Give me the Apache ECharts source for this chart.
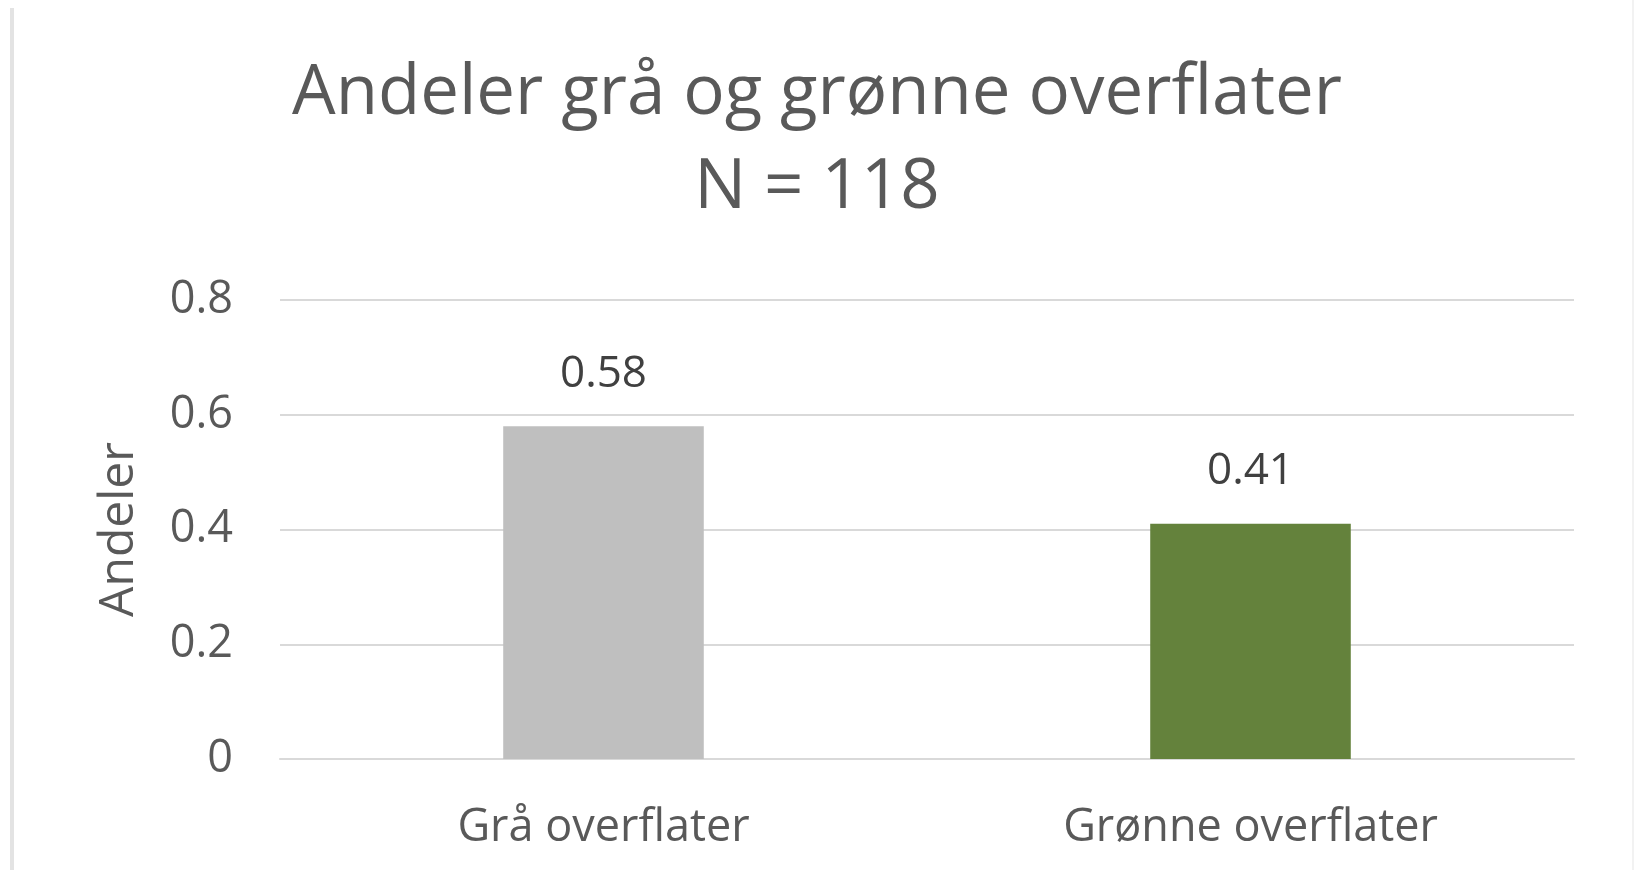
<!DOCTYPE html>
<html>
<head>
<meta charset="utf-8">
<script src="https://cdn.jsdelivr.net/npm/echarts@6/dist/echarts.min.js"></script>
<style>
html,body{margin:0;padding:0;background:#fff;}
#c{width:1634px;height:870px;}
</style>
</head>
<body>
<div id="c"></div>
<script>
const titleLines = ['Andeler grå og grønne overflater', 'N = 118'];
const categories = ['Grå overflater', 'Grønne overflater'];
const values = [0.58, 0.41];
const barColors = ['#BFBFBF', '#64823C'];
const yTicks = { min: 0, max: 0.8, interval: 0.2 };
const yName = 'Andeler';

const chart = echarts.init(document.getElementById('c'), null, { renderer: 'canvas' });
const FONT = '"Open Sans", "Noto Sans", sans-serif';
chart.setOption({
  backgroundColor: '#ffffff',
  animation: false,
  title: {
    text: titleLines.join('\n'),
    left: 'center',
    top: 47,
    padding: [0, 0, 0, 18],
    textStyle: { fontFamily: FONT, fontSize: 69, fontWeight: 'normal', color: '#595959', lineHeight: 94 }
  },
  graphic: [
    { type: 'rect', shape: { x: 10, y: 8, width: 4, height: 870 }, style: { fill: '#E3E3E3' }, silent: true },
    { type: 'rect', shape: { x: 1632, y: 0, width: 2, height: 870 }, style: { fill: '#F2F2F2' }, silent: true }
  ],
  grid: { left: 280, right: 60, top: 300, bottom: 111 },
  xAxis: {
    type: 'category',
    data: categories,
    axisLine: { show: true, lineStyle: { color: '#D9D9D9', width: 2 } },
    axisTick: { show: false },
    axisLabel: { fontFamily: FONT, fontSize: 45, color: '#595959', margin: 47 }
  },
  yAxis: {
    type: 'value',
    min: yTicks.min, max: yTicks.max, interval: yTicks.interval,
    name: yName,
    nameLocation: 'middle',
    nameRotate: 90,
    nameGap: 137,
    nameTextStyle: { fontFamily: FONT, fontSize: 48, color: '#595959' },
    axisLine: { show: false },
    axisTick: { show: false },
    axisLabel: { fontFamily: FONT, fontSize: 45, color: '#595959', margin: 47 },
    splitLine: { lineStyle: { color: '#D9D9D9', width: 2 } }
  },
  series: [{
    type: 'bar',
    data: values.map((v, i) => ({ value: v, itemStyle: { color: barColors[i] } })),
    barWidth: '31%',
    label: { show: true, position: 'top', distance: 30, fontFamily: FONT, fontSize: 44, color: '#404040' }
  }]
});
</script>
</body>
</html>
